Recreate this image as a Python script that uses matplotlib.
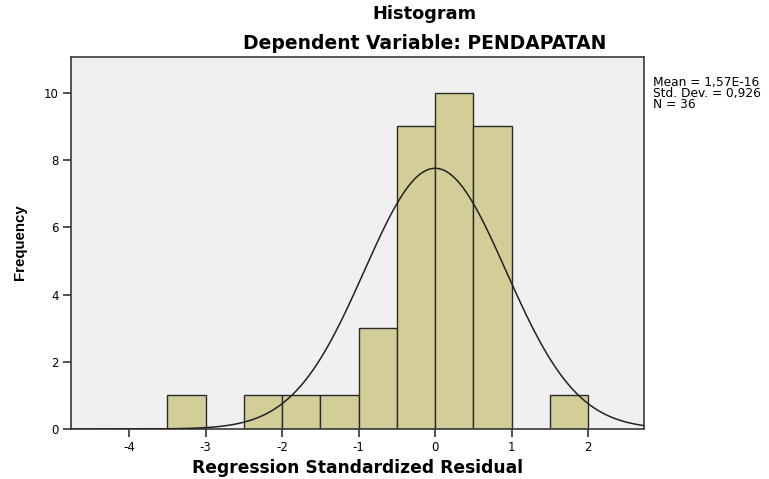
import numpy as np
import matplotlib.pyplot as plt

plt.rcParams['font.family'] = ['DejaVu Sans']

# histogram bins (left edges) and counts
bin_left = [-3.5, -2.5, -2.0, -1.5, -1.0, -0.5, 0.0, 0.5, 1.5]
counts = [1, 1, 1, 1, 3, 9, 10, 9, 1]
bin_width = 0.5
mean = 1.57e-16
std = 0.926
n = 36

xticks = [-4, -3, -2, -1, 0, 1, 2]
yticks = [0, 2, 4, 6, 8, 10]

fig = plt.figure(figsize=(7.69, 4.79), dpi=100)
ax = fig.add_axes([0.0923, 0.1044, 0.7452, 0.777])
ax.set_facecolor('#f0f0f0')

ax.bar(bin_left, counts, width=bin_width, align='edge',
       color='#d3ce97', edgecolor='#2b2b2b', linewidth=1.0, zorder=2)

# normal curve scaled to the histogram
xs = np.linspace(-4.76, 2.73, 400)
ys = n * bin_width * np.exp(-0.5 * ((xs - mean) / std) ** 2) / (std * np.sqrt(2 * np.pi))
ax.plot(xs, ys, color='#222222', lw=1.1, zorder=3)

ax.set_xlim(-4.76, 2.73)
ax.set_ylim(0, 11.07)
ax.set_xticks(xticks)
ax.set_xticklabels([str(t) for t in xticks])
ax.set_yticks(yticks)
ax.tick_params(direction='out', length=6, width=1.2, labelsize=8.5, pad=3, color='#333333')
for s in ax.spines.values():
    s.set_color('#3a3a3a')
    s.set_linewidth(1.2)

# axis titles
fig.text(358 / 769, 0.0125, 'Regression Standardized Residual', ha='center', va='baseline',
         fontsize=12.3, fontweight='bold')
fig.text(20 / 769, 1 - 242 / 479, 'Frequency', ha='center', va='center', rotation=90,
         fontsize=10.8, fontweight='bold', family=['Liberation Sans', 'DejaVu Sans'])

fig.text(0.552, 0.960, 'Histogram', ha='center', va='baseline', fontsize=12.8, fontweight='bold')
fig.text(0.552, 0.898, 'Dependent Variable: PENDAPATAN', ha='center', va='baseline',
         fontsize=13.5, fontweight='bold')

fig.text(0.849, 0.841, 'Mean = 1,57E-16\nStd. Dev. = 0,926\nN = 36', ha='left', va='top',
         fontsize=8.8, linespacing=0.8)

fig.savefig('out.png', dpi=100)
